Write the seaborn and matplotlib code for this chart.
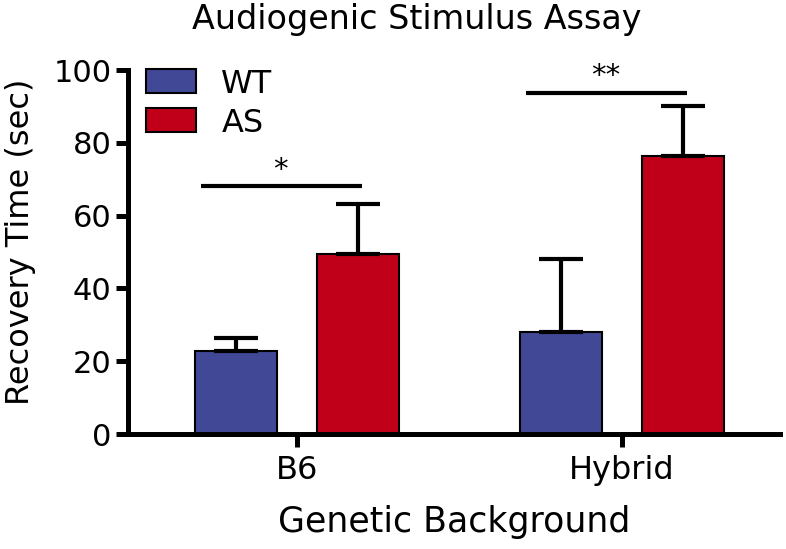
import matplotlib
matplotlib.use("Agg")
import matplotlib.pyplot as plt
import seaborn as sns
import pandas as pd

backgrounds = ["B6", "B6", "Hybrid", "Hybrid"]
genotypes = ["WT", "AS", "WT", "AS"]
means = [22.8, 49.5, 28.0, 76.5]
sems = [3.6, 13.8, 20.0, 13.7]
sig_labels = ["*", "**"]
sig_heights = [68.0, 93.7]

df = pd.DataFrame({"Background": backgrounds, "Genotype": genotypes, "Recovery": means})

sns.set_theme(style="ticks")
plt.rcParams["font.family"] = ["DejaVu Sans"]
plt.rcParams["text.color"] = "black"
plt.rcParams["axes.labelcolor"] = "black"
plt.rcParams["xtick.color"] = "black"
plt.rcParams["ytick.color"] = "black"
plt.rcParams["axes.edgecolor"] = "black"

fig = plt.figure(figsize=(7.86, 5.49), dpi=100)
ax = fig.add_axes([128/786, 1-434/549, (780-128)/786, (434-70)/549])

palette = {"WT": "#414896", "AS": "#C00018"}
sns.barplot(data=df, x="Background", y="Recovery", hue="Genotype",
            palette=palette, width=0.75, gap=0.33, edgecolor="black",
            linewidth=1.5, saturation=1, ax=ax, errorbar=None)

# error bars (upper only) placed at bar centres
bars = [p for p in ax.patches if p.get_height() > 0][:4]
centres = [(p.get_x() + p.get_width()/2, p.get_height()) for p in bars]
for m, s in zip(means, sems):
    cx = min(centres, key=lambda t: abs(t[1]-m))[0]
    ax.errorbar(cx, m, yerr=[[0], [s]], fmt="none", ecolor="black",
                elinewidth=3, capsize=16, capthick=3, zorder=1)

# significance bars
for i, (lab, h) in enumerate(zip(sig_labels, sig_heights)):
    ax.plot([i-0.295, i+0.2], [h, h], color="black", lw=3, solid_capstyle="butt")
    ax.text(i - 0.05, h + 0.8, lab, ha="center", va="bottom", fontsize=21, color="black")

ax.set_xlim(-0.52, 1.486)
ax.set_ylim(0, 100)
ax.set_yticks([0, 20, 40, 60, 80, 100])
sns.despine(ax=ax)
for sp in ["left", "bottom"]:
    ax.spines[sp].set_linewidth(3.6)
ax.tick_params(axis="both", width=3.6, length=9, labelsize=22, color="black", pad=3)
ax.tick_params(axis="x", labelsize=23, pad=6)
ax.set_xlabel("Genetic Background", fontsize=25, labelpad=14)
ax.set_ylabel("Recovery Time (sec)", fontsize=23)
ax.yaxis.set_label_coords((36 - 128) / 652, (434 - 242) / 364)
fig.text(417/786, 1 - 20/549, "Audiogenic Stimulus Assay", fontsize=24,
         ha="center", va="center", color="black")

leg = ax.legend(loc="upper left", bbox_to_anchor=(-0.016, 1.083), frameon=False,
                fontsize=23, handlelength=1.55, handleheight=0.78,
                handletextpad=0.8, labelspacing=0.25, borderpad=0.4, title=None)
for h in leg.legend_handles:
    h.set_edgecolor("black")
    h.set_linewidth(1.5)

fig.savefig("out.png", dpi=100)
